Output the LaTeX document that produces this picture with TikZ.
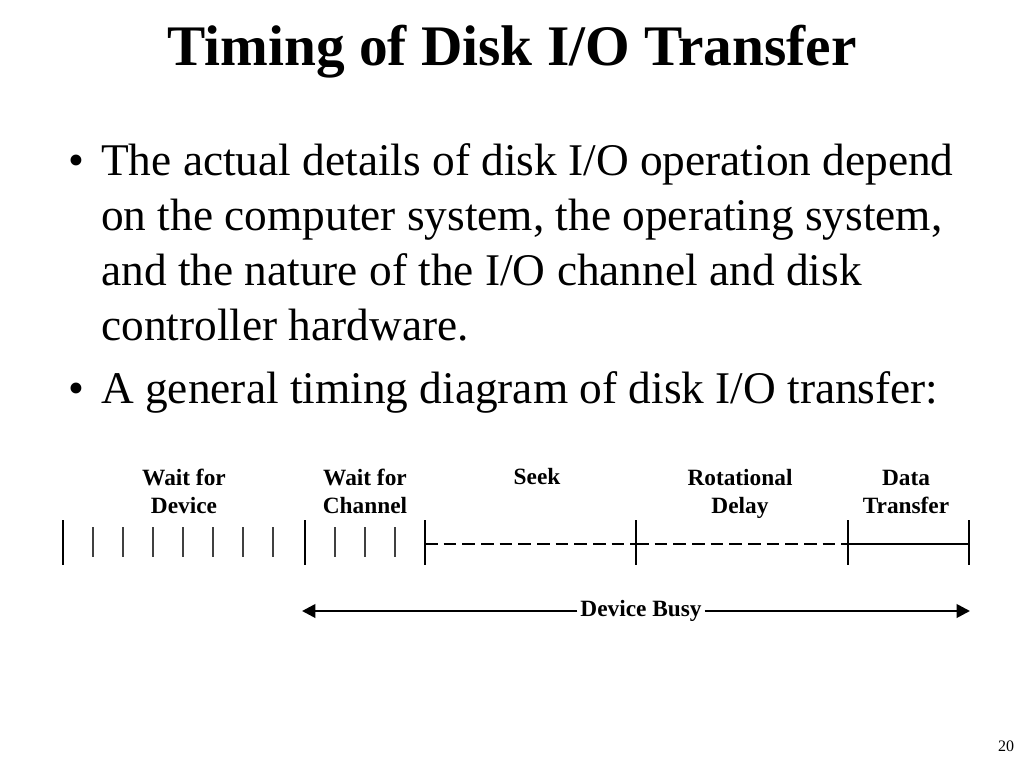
\documentclass[tikz,border=0pt]{standalone}
\usepackage{fontspec}
\setmainfont{Liberation Serif}
\usetikzlibrary{arrows.meta}

\begin{document}
\begin{tikzpicture}[x=0.75pt,y=-0.75pt,
            title text/.style={font=\fontsize{43}{50}\selectfont\bfseries, anchor=base, inner sep=0pt},
            body text/.style={font=\fontsize{34}{41}\selectfont, anchor=base west, inner sep=0pt},
            bullet mark/.style={font=\fontsize{34}{41}\selectfont, anchor=base, inner sep=0pt},
            phase label/.style={font=\fontsize{17.5}{21}\selectfont\bfseries, align=center, inner sep=0pt},
            long tick/.style={line width=2.1pt, black},
            short tick/.style={line width=1.5pt, black!75},
            dash line/.style={line width=2.2pt, dash pattern=on 9.5pt off 4.5pt},
            solid line/.style={line width=2.2pt},
            busy arrow/.style={line width=2pt, -{Triangle[length=10pt, width=10pt]}},
            ]
            \useasboundingbox (0,0) rectangle (1024,768);

            % title and text
            \node[title text] (title) at (512,65) {Timing of Disk I/O Transfer};

            \node[bullet mark] (b1) at (76,175) {•};
            \node[body text] (l1) at (101,175) {The actual details of disk I/O operation depend};
            \node[body text] (l2) at (101,230) {on the computer system, the operating system,};
            \node[body text] (l3) at (101,285) {and the nature of the I/O channel and disk};
            \node[body text] (l4) at (101,340) {controller hardware.};
            \node[bullet mark] (b2) at (76,403) {•};
            \node[body text] (l5) at (101,403) {A general timing diagram of disk I/O transfer:};

            % phase labels
            \node[phase label] (wdev) at (184,494) {\strut Wait for\\\strut Device};
            \node[phase label] (wchan) at (365,494) {\strut Wait for\\\strut Channel};
            \node[phase label, anchor=base] (seek) at (537,484) {Seek};
            \node[phase label] (rot) at (740,494) {\strut Rotational\\\strut Delay};
            \node[phase label] (xfer) at (906,494) {\strut Data\\\strut Transfer};

            % time line
            \coordinate (t0) at (63,544);
            \coordinate (t1) at (305,544);
            \coordinate (t2) at (425,544);
            \coordinate (t3) at (636,544);
            \coordinate (t4) at (848,544);
            \coordinate (t5) at (969,544);

            \foreach \x in {63,305,425,636,848,969}
                \draw[long tick] (\x,520) -- (\x,565);
            \foreach \x in {93,123,153,183,213,243,273,335,365,395}
                \draw[short tick] (\x,527) -- (\x,557);

            \draw[dash line] (t2) -- (t3);
            \draw[dash line] (t3) -- (t4);
            \draw[solid line] (t4) -- (t5);

            % device busy
            \node[font=\fontsize{17.5}{21}\selectfont\bfseries, inner sep=2pt] (busy) at (641,611) {Device Busy};
            \coordinate (bl) at (302,611);
            \coordinate (br) at (970,611);
            \draw[busy arrow] (busy) -- (bl);
            \draw[busy arrow] (busy) -- (br);

            \node[font=\fontsize{12}{14}\selectfont] (page) at (1006,746) {20};
        \end{tikzpicture}
\end{document}
